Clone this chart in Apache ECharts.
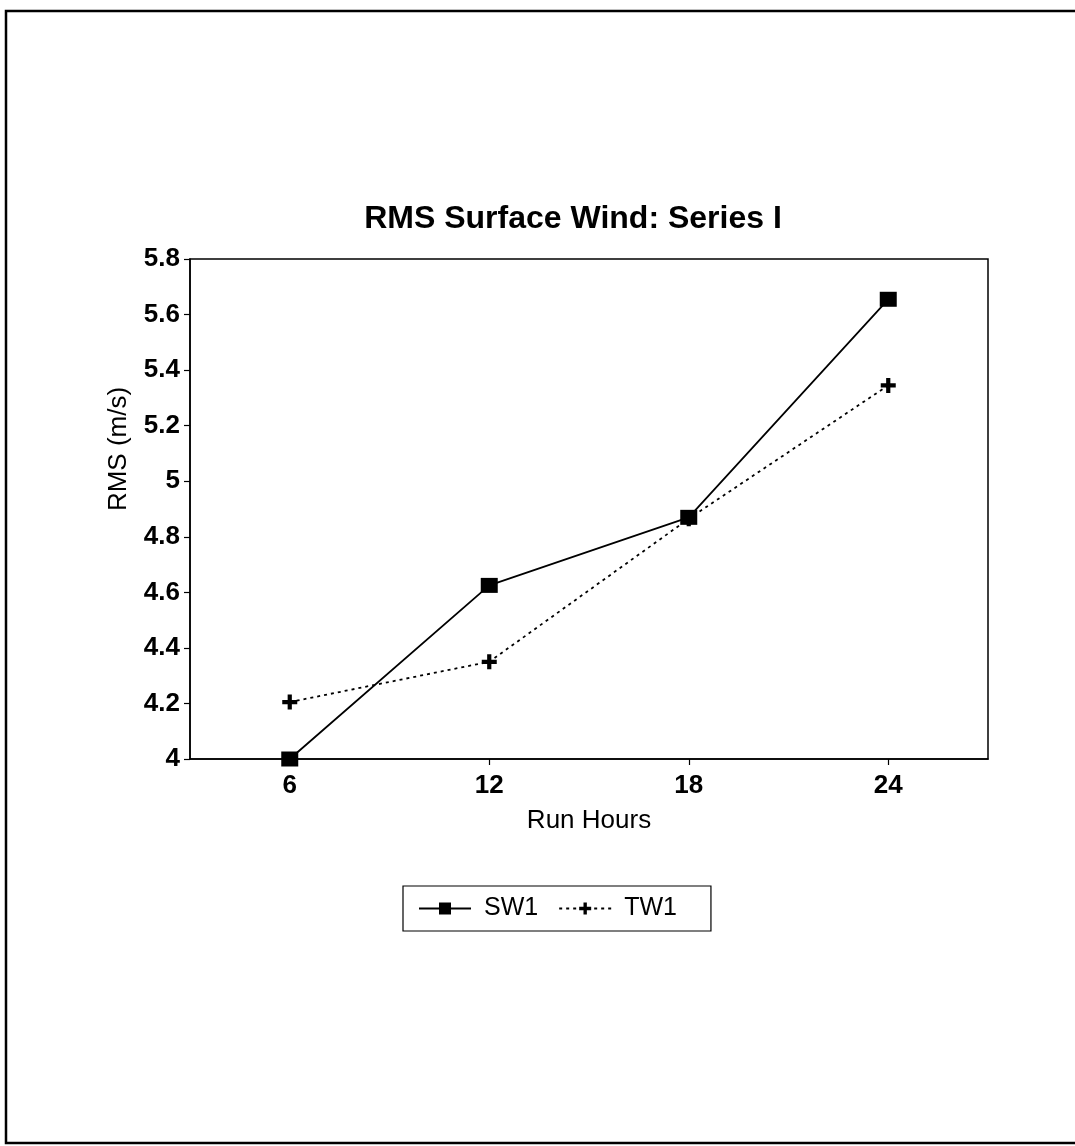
<!DOCTYPE html>
<html>
<head>
<meta charset="utf-8">
<script src="https://cdn.jsdelivr.net/npm/echarts@6/dist/echarts.min.js"></script>
<style>
html,body{margin:0;padding:0;background:#fff;}
#chart{width:1075px;height:1146px;}
</style>
</head>
<body>
<div id="chart"></div>
<script>
const runHours = [6, 12, 18, 24];
const sw1 = [4.0, 4.625, 4.87, 5.655];
const tw1 = [4.205, 4.35, 4.865, 5.345];
const yTicks = [4, 4.2, 4.4, 4.6, 4.8, 5, 5.2, 5.4, 5.6, 5.8];

const FONT = '"Liberation Sans", Arial, Helvetica, sans-serif';
const plusPath = 'path://M3.6,0 H6.4 V3.6 H10 V6.4 H6.4 V10 H3.6 V6.4 H0 V3.6 H3.6 Z';

const chart = echarts.init(document.getElementById('chart'), null, {renderer: 'canvas'});
chart.setOption({
  backgroundColor: '#fff',
  animation: false,
  textStyle: {fontFamily: FONT, color: '#000'},
  title: {
    text: 'RMS Surface Wind: Series I',
    left: 568, top: 198, textAlign: 'center',
    textStyle: {fontFamily: FONT, fontSize: 32, fontWeight: 'bold', color: '#000'}
  },
  graphic: [{
    type: 'rect',
    shape: {x: 6, y: 11, width: 1100, height: 1132},
    style: {fill: null, stroke: '#000', lineWidth: 2.5},
    silent: true
  }],
  grid: {
    left: 190, right: 87, top: 259, bottom: 387,
    show: true, borderColor: '#000', borderWidth: 1.5, backgroundColor: 'transparent'
  },
  legend: {
    left: 403, top: 886,
    padding: [10, 34, 10, 15],
    borderColor: '#000', borderWidth: 1.2,
    itemWidth: 52, itemHeight: 15, itemGap: 20,
    textStyle: {fontFamily: FONT, fontSize: 25, color: '#000', padding: [0, 0, 0, 8]},
    data: ['SW1', 'TW1']
  },
  xAxis: {
    type: 'value', min: 3, max: 27,
    name: 'Run Hours', nameLocation: 'middle', nameGap: 49,
    nameTextStyle: {fontFamily: FONT, fontSize: 26, color: '#000'},
    axisLine: {show: true, lineStyle: {color: '#000', width: 1.5}},
    axisTick: {show: true, customValues: runHours, length: 6, lineStyle: {color: '#000', width: 1.2}},
    axisLabel: {customValues: runHours, margin: 14, fontFamily: FONT, fontSize: 26, fontWeight: 'bold', color: '#000'},
    splitLine: {show: false}
  },
  yAxis: {
    type: 'value', min: 4, max: 5.8, interval: 0.2,
    name: 'RMS (m/s)', nameLocation: 'middle', nameGap: 58,
    nameTextStyle: {fontFamily: FONT, fontSize: 26, color: '#000', padding: [0, 0, 0, 120]},
    axisLine: {show: true, lineStyle: {color: '#000', width: 1.5}},
    axisTick: {show: true, length: 6, lineStyle: {color: '#000', width: 1.2}},
    axisLabel: {margin: 10, fontFamily: FONT, fontSize: 26, fontWeight: 'bold', color: '#000',
      formatter: v => String(Math.round(v * 10) / 10)},
    splitLine: {show: false}
  },
  series: [{
    name: 'SW1', type: 'line',
    data: runHours.map((h, i) => [h, sw1[i]]),
    symbol: 'rect', symbolSize: [17, 15],
    lineStyle: {color: '#000', width: 1.8, type: 'solid'},
    itemStyle: {color: '#000'}
  }, {
    name: 'TW1', type: 'line',
    data: runHours.map((h, i) => [h, tw1[i]]),
    symbol: plusPath, symbolSize: 15,
    lineStyle: {color: '#000', width: 1.8, type: [3, 4]},
    itemStyle: {color: '#000'}
  }]
});
</script>
</body>
</html>
